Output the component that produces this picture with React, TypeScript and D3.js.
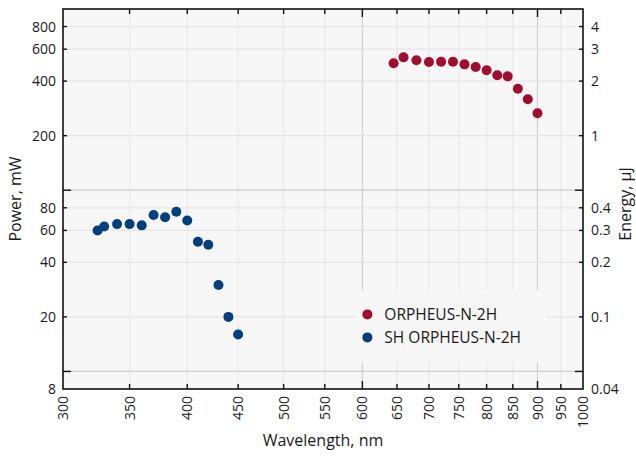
import React, { useEffect, useRef } from 'react'
import * as d3 from 'd3'

// SH ORPHEUS-N-2H
const shWavelength = [325, 330, 340, 350, 360, 370, 380, 390, 400, 410, 420, 430, 440, 450]
const shPower = [60, 63, 65, 65, 64, 73, 71, 76, 68, 52, 50, 30, 20, 16]

// ORPHEUS-N-2H
const wavelength = [645, 660, 680, 700, 720, 740, 760, 780, 800, 820, 840, 860, 880, 900]
const power = [502, 541, 521, 510, 512, 512, 495, 479, 459, 431, 425, 363, 318, 266]

const xTicks = [300, 350, 400, 450, 500, 550, 600, 650, 700, 750, 800, 850, 900, 950, 1000]
const xMajor = [600, 900]
const powerTicks = [8, 20, 40, 60, 80, 200, 400, 600, 800]
const powerMajor = [10, 100]
const energyTicks = [0.04, 0.1, 0.2, 0.3, 0.4, 1, 2, 3, 4]
const energyMajor = [0.05, 0.5]

const legendNames = ['ORPHEUS-N-2H', 'SH ORPHEUS-N-2H']
const colors = ['#a30d2d', '#033f7f']

const App = () => {
  const ref = useRef(null)

  useEffect(() => {
    draw()
  }, [])

  const draw = () => {
    const W = 636
    const H = 457
    const margin = { top: 9, right: 53, bottom: 68, left: 63 }
    const width = W - margin.left - margin.right
    const height = H - margin.top - margin.bottom
    const font = '"Open Sans", sans-serif'
    const textColor = '#1a1a1a'

    d3.select(ref.current).selectAll('*').remove()
    const root = d3.select(ref.current).append('svg')
      .attr('width', W)
      .attr('height', H)
      .style('position', 'absolute')
      .style('left', 0)
      .style('top', 0)
      .style('background', '#fff')

    const svg = root.append('g')
      .attr('transform', `translate(${margin.left},${margin.top})`)

    const x = d3.scaleLog().domain([300, 1000]).range([0, width])
    const y = d3.scaleLog().domain([8, 1000]).range([height, 0])
    const y2 = d3.scaleLog().domain([0.04, 5]).range([height, 0])

    svg.append('rect')
      .attr('width', width)
      .attr('height', height)
      .attr('fill', '#f7f7f7')

    // grid
    const grid = svg.append('g')
    grid.selectAll('.vx')
      .data(xTicks.slice(1, -1))
      .enter().append('line')
      .attr('x1', d => x(d)).attr('x2', d => x(d))
      .attr('y1', 0).attr('y2', height)
      .attr('stroke', d => xMajor.includes(d) ? '#d0d0d0' : '#e9e9e9')
      .attr('stroke-width', 1.2)
    grid.selectAll('.hy')
      .data(powerTicks.slice(1).concat(powerMajor))
      .enter().append('line')
      .attr('x1', 0).attr('x2', width)
      .attr('y1', d => y(d)).attr('y2', d => y(d))
      .attr('stroke', d => powerMajor.includes(d) ? '#cdcdcd' : '#e6e6e6')
      .attr('stroke-width', 1.2)

    // legend box hides grid
    const lg = svg.append('g').attr('transform', `translate(${x(600) - 6},${y(28)})`)
    lg.append('rect')
      .attr('width', 190)
      .attr('height', 72)
      .attr('fill', '#f7f7f7')
    legendNames.forEach((name, i) => {
      lg.append('circle')
        .attr('cx', 11)
        .attr('cy', 24 + i * 23)
        .attr('r', 5)
        .attr('fill', colors[i])
      lg.append('text')
        .attr('x', 28)
        .attr('y', 24 + i * 23)
        .attr('dy', '0.36em')
        .attr('font-family', font)
        .attr('font-size', 15.5)
        .attr('fill', textColor)
        .text(name)
    })

    // axes frame
    const axisColor = '#111'
    svg.append('rect')
      .attr('width', width)
      .attr('height', height)
      .attr('fill', 'none')
      .attr('stroke', axisColor)
      .attr('stroke-width', 1.6)

    // bottom and top ticks (inward)
    ;[height, 0].forEach(pos => {
      svg.append('g').selectAll('line')
        .data(xTicks.slice(1, -1))
        .enter().append('line')
        .attr('x1', d => x(d)).attr('x2', d => x(d))
        .attr('y1', pos)
        .attr('y2', d => pos + (pos === 0 ? 1 : -1) * (xMajor.includes(d) ? 8 : 5))
        .attr('stroke', axisColor)
        .attr('stroke-width', 1.4)
    })

    // left ticks
    svg.append('g').selectAll('line')
      .data(powerTicks.slice(1).concat(powerMajor))
      .enter().append('line')
      .attr('x1', 0)
      .attr('x2', d => powerMajor.includes(d) ? 8 : 4)
      .attr('y1', d => y(d)).attr('y2', d => y(d))
      .attr('stroke', axisColor)
      .attr('stroke-width', 1.4)

    // right ticks
    svg.append('g').selectAll('line')
      .data(energyTicks.slice(1).concat(energyMajor))
      .enter().append('line')
      .attr('x1', width)
      .attr('x2', d => width - (energyMajor.includes(d) ? 8 : 4))
      .attr('y1', d => y2(d)).attr('y2', d => y2(d))
      .attr('stroke', axisColor)
      .attr('stroke-width', 1.4)

    // tick labels
    svg.append('g').selectAll('text')
      .data(powerTicks)
      .enter().append('text')
      .attr('x', -7)
      .attr('y', d => y(d))
      .attr('dy', '0.36em')
      .attr('text-anchor', 'end')
      .attr('font-family', font)
      .attr('font-size', 14)
      .attr('fill', textColor)
      .text(d => d)

    svg.append('g').selectAll('text')
      .data(energyTicks)
      .enter().append('text')
      .attr('x', width + 8)
      .attr('y', d => y2(d))
      .attr('dy', '0.36em')
      .attr('text-anchor', 'start')
      .attr('font-family', font)
      .attr('font-size', 14)
      .attr('fill', textColor)
      .text(d => d)

    svg.append('g').selectAll('text')
      .data(xTicks)
      .enter().append('text')
      .attr('transform', d => `translate(${x(d)},${height + 7}) rotate(-90)`)
      .attr('dy', '0.36em')
      .attr('text-anchor', 'end')
      .attr('font-family', font)
      .attr('font-size', 14)
      .attr('fill', textColor)
      .text(d => d)

    // axis titles
    svg.append('text')
      .attr('x', width / 2)
      .attr('y', height + 57)
      .attr('text-anchor', 'middle')
      .attr('font-family', font)
      .attr('font-size', 16)
      .attr('fill', textColor)
      .text('Wavelength, nm')

    svg.append('text')
      .attr('transform', `translate(${-42},${height / 2}) rotate(-90)`)
      .attr('text-anchor', 'middle')
      .attr('font-family', font)
      .attr('font-size', 16)
      .attr('fill', textColor)
      .text('Power, mW')

    svg.append('text')
      .attr('transform', `translate(${width + 48},${height / 2 + 5}) rotate(-90)`)
      .attr('text-anchor', 'middle')
      .attr('font-family', font)
      .attr('font-size', 16)
      .attr('fill', textColor)
      .text('Energy, µJ')

    // data
    svg.append('g').selectAll('circle')
      .data(wavelength.map((w, i) => ({ w, p: power[i] })))
      .enter().append('circle')
      .attr('cx', d => x(d.w))
      .attr('cy', d => y(d.p))
      .attr('r', 5)
      .attr('fill', colors[0])

    svg.append('g').selectAll('circle')
      .data(shWavelength.map((w, i) => ({ w, p: shPower[i] })))
      .enter().append('circle')
      .attr('cx', d => x(d.w))
      .attr('cy', d => y(d.p))
      .attr('r', 5)
      .attr('fill', colors[1])
  }

  return <div ref={ref}></div>
}

export default App
